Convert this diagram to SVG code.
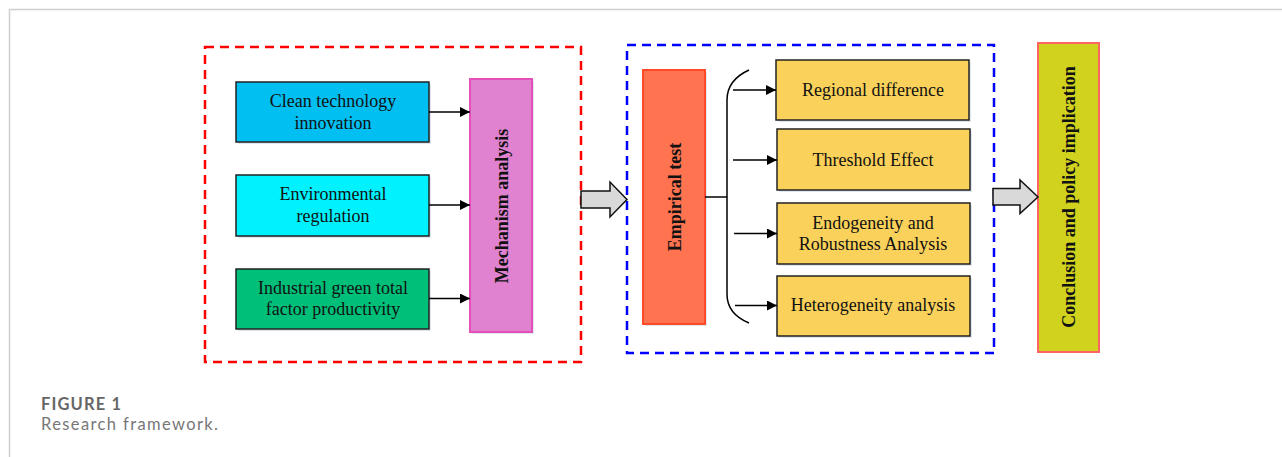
<svg xmlns="http://www.w3.org/2000/svg" width="1282" height="457" viewBox="0 0 1282 457">
  <defs>
    <style>
      .lbl { font-family: "Liberation Serif", "Times New Roman", serif; font-size: 18px; fill: #111; text-anchor: middle; }
      .vlbl { font-family: "Liberation Serif", "Times New Roman", serif; font-size: 18px; font-weight: bold; fill: #111; text-anchor: middle; }
      .box { stroke: #222; stroke-width: 1.5; }
      .shadow { fill: #dfe6ee; }
      .conn { stroke: #000; stroke-width: 1.5; fill: none; }
      .big { fill: #d9d9d9; stroke: #111; stroke-width: 1.5; stroke-linejoin: miter; }
      .cap1 { font-family: Lato, "Open Sans", sans-serif; font-size: 16.5px; font-weight: bold; fill: #666; }
      .cap2 { font-family: Lato, "Open Sans", sans-serif; font-size: 16.5px; fill: #777; }
    </style>
    <marker id="arrow" viewBox="0 0 10 10" refX="10" refY="5" markerWidth="10" markerHeight="10" markerUnits="userSpaceOnUse" orient="auto">
      <path d="M0,0 L10,5 L0,10 Z" fill="#000"/>
    </marker>
  </defs>

  <rect width="1282" height="457" fill="#fff"/>
  <!-- page frame -->
  <path d="M9.5,457 V9.5 H1282" fill="none" stroke="#cfcfcf" stroke-width="1.5"/>

  <!-- stage containers -->
  <rect id="stage-mechanism" x="205" y="47" width="376" height="315" fill="none" stroke="#ff0000" stroke-width="2.5" stroke-dasharray="9,6"/>
  <rect id="stage-empirical" x="627" y="45" width="367" height="308" fill="none" stroke="#0000ff" stroke-width="2.5" stroke-dasharray="9,6"/>

  <!-- input factors -->
  <g id="node-clean-tech">
    <rect class="shadow" x="238" y="84" width="193" height="60"/>
    <rect class="box" x="236" y="82" width="193" height="60" fill="#02bff1"/>
    <text class="lbl" x="333" y="107">Clean technology</text>
    <text class="lbl" x="333" y="128.5">innovation</text>
  </g>
  <g id="node-env-reg">
    <rect class="shadow" x="238" y="177" width="193" height="61"/>
    <rect class="box" x="236" y="175" width="193" height="61" fill="#00f2ff"/>
    <text class="lbl" x="333" y="200">Environmental</text>
    <text class="lbl" x="333" y="221.5">regulation</text>
  </g>
  <g id="node-igtfp">
    <rect class="shadow" x="238" y="271" width="193" height="60"/>
    <rect class="box" x="236" y="269" width="193" height="60" fill="#00bf79"/>
    <text class="lbl" x="333" y="293.5">Industrial green total</text>
    <text class="lbl" x="333" y="315">factor productivity</text>
  </g>
  <g id="node-mechanism">
    <rect class="shadow" x="472" y="81" width="62" height="253"/>
    <rect x="470" y="79" width="62" height="253" fill="#e082cf" stroke="#e54fb8" stroke-width="2"/>
    <text class="vlbl" transform="translate(501,206) rotate(-90)" dy="7">Mechanism analysis</text>
  </g>

  <!-- empirical block -->
  <g id="node-empirical">
    <rect class="shadow" x="645" y="72" width="62" height="254"/>
    <rect x="643" y="70" width="62" height="254" fill="#ff7350" stroke="#ff4a2a" stroke-width="2"/>
    <text class="vlbl" transform="translate(674,197) rotate(-90)" dy="7">Empirical test</text>
  </g>
  <g id="node-regional">
    <rect class="shadow" x="778" y="62" width="193" height="60"/>
    <rect class="box" x="776" y="60" width="193" height="60" fill="#fad15a"/>
    <text class="lbl" x="873" y="95.5">Regional difference</text>
  </g>
  <g id="node-threshold">
    <rect class="shadow" x="779" y="131" width="193" height="61"/>
    <rect class="box" x="777" y="129" width="193" height="61" fill="#fad15a"/>
    <text class="lbl" x="873" y="165.5">Threshold Effect</text>
  </g>
  <g id="node-endogeneity">
    <rect class="shadow" x="779" y="205" width="193" height="61"/>
    <rect class="box" x="777" y="203" width="193" height="61" fill="#fad15a"/>
    <text class="lbl" x="873" y="228.5">Endogeneity and</text>
    <text class="lbl" x="873" y="250">Robustness Analysis</text>
  </g>
  <g id="node-heterogeneity">
    <rect class="shadow" x="779" y="278" width="193" height="60"/>
    <rect class="box" x="777" y="276" width="193" height="60" fill="#fad15a"/>
    <text class="lbl" x="873" y="311">Heterogeneity analysis</text>
  </g>

  <!-- final stage -->
  <g id="node-conclusion">
    <rect x="1038" y="43" width="61" height="309" fill="#d0d21e" stroke="#ff6464" stroke-width="2"/>
    <text class="vlbl" transform="translate(1068,197) rotate(-90)" dy="7">Conclusion and policy implication</text>
  </g>

  <!-- connectors -->
  <g id="connectors">
    <line class="conn" x1="429" y1="112" x2="470" y2="112" marker-end="url(#arrow)"/>
    <line class="conn" x1="429" y1="205" x2="470" y2="205" marker-end="url(#arrow)"/>
    <line class="conn" x1="429" y1="298.5" x2="470" y2="298.5" marker-end="url(#arrow)"/>

    <line class="conn" x1="705" y1="197" x2="727" y2="197"/>
    <path class="conn" d="M749,70 Q727,80 727,100 V294 Q727,314 749,323"/>

    <line class="conn" x1="733" y1="90" x2="776" y2="90" marker-end="url(#arrow)"/>
    <line class="conn" x1="733" y1="160" x2="777" y2="160" marker-end="url(#arrow)"/>
    <line class="conn" x1="734" y1="233.5" x2="777" y2="233.5" marker-end="url(#arrow)"/>
    <line class="conn" x1="735" y1="305.5" x2="777" y2="305.5" marker-end="url(#arrow)"/>

    <path class="big" d="M581,191 H610 V182 L627,199.5 L610,217 V208 H581 Z"/>
    <path class="big" d="M993,188.5 H1020 V180 L1038,197 L1020,213.5 V205 H993 Z"/>
  </g>

  <!-- caption -->
  <text class="cap1" x="41" y="410" textLength="80" lengthAdjust="spacing">FIGURE 1</text>
  <text class="cap2" x="41" y="430" textLength="177" lengthAdjust="spacing">Research framework.</text>
</svg>
